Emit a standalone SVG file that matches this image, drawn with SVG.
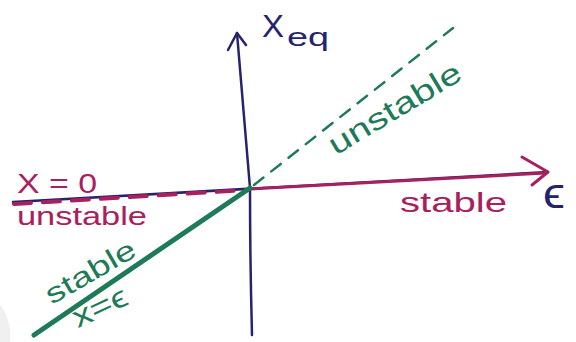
<svg xmlns="http://www.w3.org/2000/svg" width="576" height="342" viewBox="0 0 576 342">
  <defs>
    <style>
      .navy { stroke: #25236e; fill: none; stroke-linecap: round; stroke-linejoin: round; }
      .mag { stroke: #a8205e; fill: none; stroke-linecap: round; stroke-linejoin: round; }
      .grn { stroke: #1e7a58; fill: none; stroke-linecap: round; stroke-linejoin: round; }
      .t { font-family: "Liberation Sans", "DejaVu Sans", sans-serif; }
      .tm { fill: #a8205e; }
      .tg { fill: #1e7a58; }
      .tn { fill: #25236e; }
    </style>
  </defs>
  <rect x="0" y="0" width="576" height="342" fill="#ffffff"/>
  <path d="M0,305 Q12,320 10,342 L0,342 Z" fill="#f0f0f0"/>

  <g id="connectors">
    <path id="eps-axis" class="navy" stroke-width="2.5" d="M13,202 L548,172"/>
    <path class="mag" stroke-width="4" stroke-dasharray="17,12" d="M14,204 L248,190"/>
    <path class="mag" stroke-width="3" d="M250,189 L546,173"/>
    <path class="mag" stroke-width="3" d="M522,157 L548,172 L532,185"/>
    <path id="xeq-axis" class="navy" stroke-width="2.5" d="M252,335 Q250,260 250,188 L237,33"/>
    <path class="navy" stroke-width="2.5" d="M228,50 L237,33 L246,45"/>
    <path class="grn" stroke-width="5" d="M250,188 L34,335"/>
    <path class="grn" stroke-width="2.5" stroke-dasharray="12,10" d="M254,185 L453,28"/>
  </g>

  <g id="label-xeq">
    <text class="t tn" x="262" y="37" font-size="32" textLength="22" lengthAdjust="spacingAndGlyphs">X</text>
    <text class="t tn" x="287" y="46" font-size="26" textLength="42" lengthAdjust="spacingAndGlyphs">eq</text>
  </g>
  <g id="label-eps">
    <text class="t tn" x="543" y="208" font-size="42" textLength="22" lengthAdjust="spacingAndGlyphs">ϵ</text>
  </g>
  <g id="label-x0">
    <text class="t tm" x="17" y="193" font-size="28" textLength="80" lengthAdjust="spacingAndGlyphs">X = 0</text>
  </g>
  <g id="label-unstable-left">
    <text class="t tm" x="17" y="225" font-size="26" textLength="130" lengthAdjust="spacingAndGlyphs">unstable</text>
  </g>
  <g id="label-stable-right">
    <text class="t tm" x="400" y="212" font-size="28" textLength="107" lengthAdjust="spacingAndGlyphs">stable</text>
  </g>
  <g id="label-unstable-green">
    <text class="t tg" x="0" y="0" font-size="30" text-anchor="middle" textLength="150" lengthAdjust="spacingAndGlyphs" transform="translate(400,117) rotate(-31)">unstable</text>
  </g>
  <g id="label-stable-green">
    <text class="t tg" x="0" y="0" font-size="28" text-anchor="middle" textLength="100" lengthAdjust="spacingAndGlyphs" transform="translate(95,280) rotate(-30)">stable</text>
  </g>
  <g id="label-xeps">
    <text class="t tg" x="0" y="0" font-size="30" text-anchor="middle" textLength="58" lengthAdjust="spacingAndGlyphs" transform="translate(104,316) rotate(-25)">x=ϵ</text>
  </g>
</svg>
